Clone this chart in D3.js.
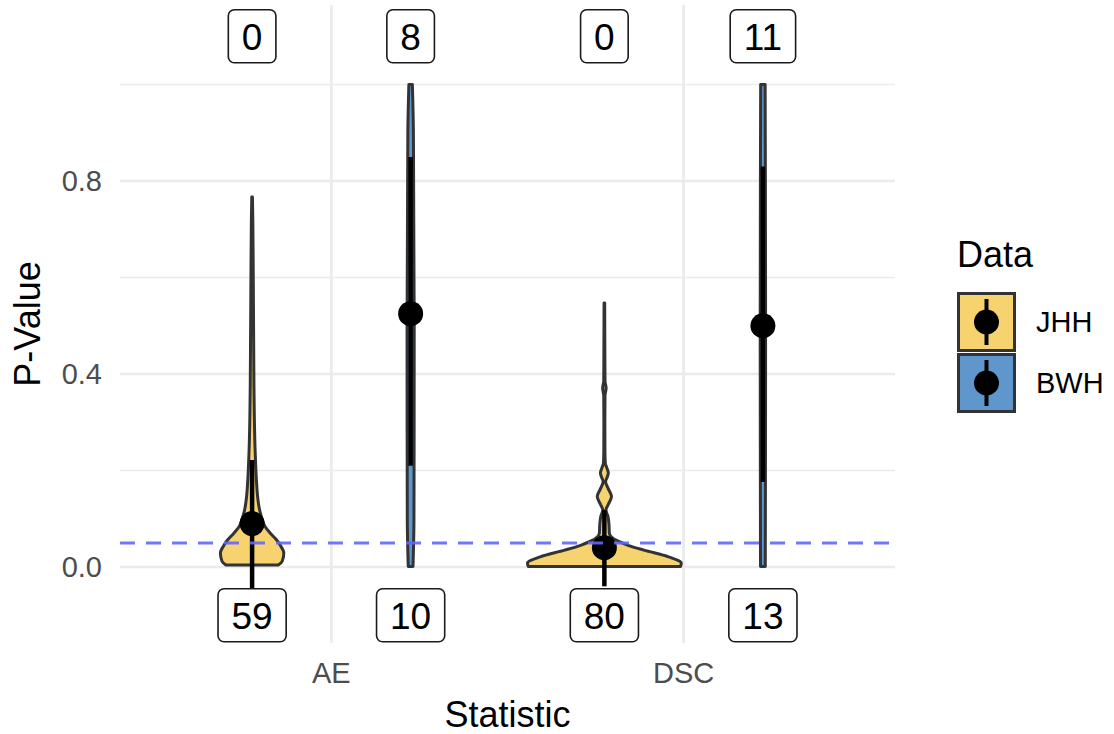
<!DOCTYPE html>
<html>
<head>
<meta charset="utf-8">
<script src="https://cdn.jsdelivr.net/npm/d3@7"></script>
<style>
  body { margin: 0; background: #fff; }
  text { font-family: "Liberation Sans", Arial, sans-serif; }
</style>
</head>
<body>
<div id="chart"></div>
<script>
// categories and groups
var categories = ["AE", "DSC"];
var groups = ["JHH", "BWH"];
var colors = {JHH: "#F7D36F", BWH: "#5F96CC"};

// violin outlines: [p-value, relative density (1 = widest)]
var violinJHH_AE = [[0.004, 0.33], [0.012, 0.38], [0.029, 0.40], [0.045, 0.355], [0.056, 0.31],
    [0.07, 0.23], [0.0835, 0.165], [0.1, 0.125], [0.118, 0.095], [0.145, 0.07], [0.173, 0.057],
    [0.242, 0.038], [0.38, 0.023], [0.59, 0.015], [0.72, 0.009], [0.767, 0.004]];
var violinBWH_AE = [[0.001, 0.03], [0.1, 0.042], [0.5, 0.045], [0.9, 0.035], [1.0, 0.022]];
var violinJHH_DSC = [[0.001, 0.96], [0.008, 0.97], [0.021, 0.81], [0.035, 0.50], [0.045, 0.30],
    [0.053, 0.18], [0.062, 0.09], [0.07, 0.063], [0.09, 0.057], [0.105, 0.045], [0.118, 0.02],
    [0.13, 0.05], [0.146, 0.09], [0.162, 0.05], [0.177, 0.015], [0.186, 0.035], [0.195, 0.05],
    [0.205, 0.032], [0.215, 0.012], [0.24, 0.007], [0.3, 0.006], [0.355, 0.008], [0.371, 0.022],
    [0.385, 0.008], [0.45, 0.006], [0.547, 0.004]];
var violinBWH_DSC = [[0.001, 0.03], [0.5, 0.034], [1.0, 0.028]];

// mean and interval per violin: [mean, low, high]
var summaryJHH_AE = [0.09, -0.045, 0.222];
var summaryBWH_AE = [0.525, 0.21, 0.85];
var summaryJHH_DSC = [0.04, -0.04, 0.118];
var summaryBWH_DSC = [0.50, 0.176, 0.83];

// count labels (above = p > cutoff count at top, below at bottom)
var topCounts = [0, 8, 0, 11];
var bottomCounts = [59, 10, 80, 13];
var topLabelY = 1.1;
var bottomLabelY = -0.1;
var cutoff = 0.05;

var yTicksMajor = [0, 0.4, 0.8];
var yTicksMinor = [0.2, 0.6, 1.0];

var series = [
    {cat: "AE", grp: "JHH", outline: violinJHH_AE, s: summaryJHH_AE},
    {cat: "AE", grp: "BWH", outline: violinBWH_AE, s: summaryBWH_AE},
    {cat: "DSC", grp: "JHH", outline: violinJHH_DSC, s: summaryJHH_DSC},
    {cat: "DSC", grp: "BWH", outline: violinBWH_DSC, s: summaryBWH_DSC}
];
series.forEach(function (d, i) {
    d.top = topCounts[i];
    d.bottom = bottomCounts[i];
});

var panel = {left: 120, right: 895, top: 5, bottom: 643};

var svg = d3.select("#chart").append("svg")
    .attr("width", 1114)
    .attr("height", 734);

var x = d3.scalePoint().domain(categories).range([panel.left, panel.right]).padding(0.6);
var dodge = d3.scaleBand().domain(groups)
    .range([-0.45 * x.step(), 0.45 * x.step()]);
var y = d3.scaleLinear().domain([-0.1575, 1.1648]).range([panel.bottom, panel.top]);
var w = d3.scaleLinear().domain([0, 1]).range([0, dodge.bandwidth() / 2]);

function cx(d) {
    return x(d.cat) + dodge(d.grp) + dodge.bandwidth() / 2;
}

// grid
svg.append("g").selectAll("line.minor")
    .data(yTicksMinor).enter().append("line")
    .attr("x1", panel.left).attr("x2", panel.right)
    .attr("y1", function (d) { return y(d); })
    .attr("y2", function (d) { return y(d); })
    .attr("stroke", "#EBEBEB").attr("stroke-width", 1.4);
svg.append("g").selectAll("line.major")
    .data(yTicksMajor).enter().append("line")
    .attr("x1", panel.left).attr("x2", panel.right)
    .attr("y1", function (d) { return y(d); })
    .attr("y2", function (d) { return y(d); })
    .attr("stroke", "#EBEBEB").attr("stroke-width", 2.6);
svg.append("g").selectAll("line.vx")
    .data(categories).enter().append("line")
    .attr("x1", function (d) { return x(d); })
    .attr("x2", function (d) { return x(d); })
    .attr("y1", panel.top).attr("y2", panel.bottom)
    .attr("stroke", "#EBEBEB").attr("stroke-width", 2.8);

// axis labels
svg.append("g").selectAll("text")
    .data(yTicksMajor).enter().append("text")
    .attr("x", 102)
    .attr("y", function (d) { return y(d) + 10; })
    .attr("text-anchor", "end")
    .attr("font-size", 29)
    .attr("fill", "#4D4D4D")
    .text(function (d) { return d3.format(".1f")(d); });
svg.append("g").selectAll("text")
    .data(categories).enter().append("text")
    .attr("x", function (d) { return x(d); })
    .attr("y", 683)
    .attr("text-anchor", "middle")
    .attr("font-size", 29)
    .attr("fill", "#4D4D4D")
    .text(function (d) { return d; });

svg.append("text")
    .attr("x", (panel.left + panel.right) / 2)
    .attr("y", 727)
    .attr("text-anchor", "middle")
    .attr("font-size", 36)
    .text("Statistic");
svg.append("text")
    .attr("transform", "translate(40," + (panel.top + panel.bottom) / 2 + ") rotate(-90)")
    .attr("text-anchor", "middle")
    .attr("font-size", 36)
    .text("P-Value");

// violins
var area = d3.area()
    .curve(d3.curveMonotoneY)
    .y(function (p) { return y(p[0]); });

svg.append("g").selectAll("path")
    .data(series).enter().append("path")
    .attr("d", function (d) {
        var c = cx(d);
        return area
            .x0(function (p) { return c - w(p[1]); })
            .x1(function (p) { return c + w(p[1]); })(d.outline);
    })
    .attr("fill", function (d) { return colors[d.grp]; })
    .attr("stroke", "#333333")
    .attr("stroke-width", 3)
    .attr("stroke-linejoin", "round");

// point ranges
var pr = svg.append("g").selectAll("g")
    .data(series).enter().append("g");
pr.append("line")
    .attr("x1", cx).attr("x2", cx)
    .attr("y1", function (d) { return y(d.s[1]); })
    .attr("y2", function (d) { return y(d.s[2]); })
    .attr("stroke", "#000").attr("stroke-width", 4.5);
pr.append("circle")
    .attr("cx", cx)
    .attr("cy", function (d) { return y(d.s[0]); })
    .attr("r", 12.5)
    .attr("fill", "#000");

// cutoff line
svg.append("line")
    .attr("x1", panel.left).attr("x2", panel.right)
    .attr("y1", y(cutoff)).attr("y2", y(cutoff))
    .attr("stroke", "#5F67FF")
    .attr("stroke-opacity", 0.9)
    .attr("stroke-width", 3)
    .attr("stroke-dasharray", "15,11");

// count labels
function addLabels(key, val) {
    var g = svg.append("g").selectAll("g")
        .data(series).enter().append("g")
        .attr("transform", function (d) {
            return "translate(" + cx(d) + "," + y(val) + ")";
        });
    var rects = g.append("rect");
    var texts = g.append("text")
        .attr("text-anchor", "middle")
        .attr("y", 14)
        .attr("font-size", 37)
        .text(function (d) { return d[key]; });
    rects.each(function (d, i) {
        var tw = texts.nodes()[i].getComputedTextLength();
        d3.select(this)
            .attr("x", -tw / 2 - 13.5)
            .attr("y", -26.5)
            .attr("width", tw + 27)
            .attr("height", 53)
            .attr("rx", 6)
            .attr("fill", "#fff")
            .attr("stroke", "#1A1A1A")
            .attr("stroke-width", 1.6);
    });
}
addLabels("top", topLabelY);
addLabels("bottom", bottomLabelY);

// legend
var legend = svg.append("g").attr("transform", "translate(957,0)");
legend.append("text")
    .attr("x", 0).attr("y", 267)
    .attr("font-size", 36)
    .text("Data");
var keys = legend.selectAll("g.key")
    .data(groups).enter().append("g")
    .attr("transform", function (d, i) { return "translate(0," + (292 + i * 61) + ")"; });
keys.append("rect")
    .attr("x", 1.5).attr("y", 1.5)
    .attr("width", 56).attr("height", 57)
    .attr("fill", function (d) { return colors[d]; })
    .attr("stroke", "#333333")
    .attr("stroke-width", 3);
keys.append("line")
    .attr("x1", 29.5).attr("x2", 29.5)
    .attr("y1", 7).attr("y2", 53)
    .attr("stroke", "#000").attr("stroke-width", 4);
keys.append("circle")
    .attr("cx", 29.5).attr("cy", 30)
    .attr("r", 12.5)
    .attr("fill", "#000");
keys.append("text")
    .attr("x", 79).attr("y", 40)
    .attr("font-size", 29)
    .text(function (d) { return d; });
</script>
</body>
</html>
